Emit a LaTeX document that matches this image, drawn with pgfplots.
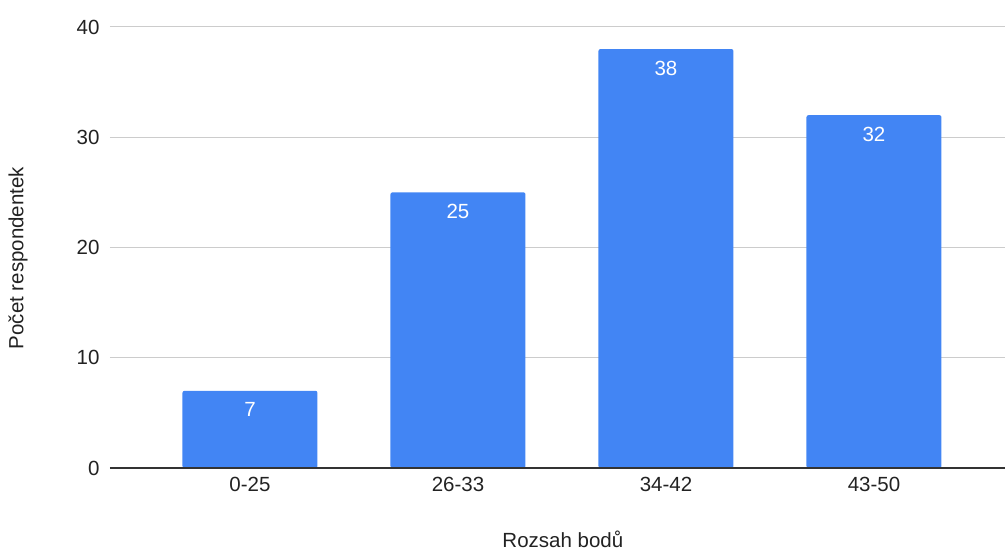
\documentclass[border=0pt]{standalone}
\usepackage{fontspec}
\setmainfont{Liberation Sans}
\usepackage{pgfplots}
\pgfplotsset{compat=1.18}
\definecolor{barblue}{HTML}{4285F4}
\definecolor{gridgray}{HTML}{CCCCCC}
\definecolor{axisdark}{HTML}{333333}
\definecolor{txt}{HTML}{222222}
\newcommand{\chartfont}{\fontsize{20.5}{24}\selectfont}
\begin{document}
\begin{tikzpicture}[x=1pt,y=1pt]
\path[use as bounding box] (-110,-84) rectangle (895,468);
\begin{axis}[
  at={(0,0)}, anchor=south west,
  scale only axis,
  width=895pt, height=441pt,
  xmin=-0.673, xmax=3.63,
  ymin=0, ymax=40,
  ytick={0,10,20,30,40},
  xtick={0,1,2,3},
  xticklabels={0-25,26-33,34-42,43-50},
  axis line style={draw=none},
  major tick length=0pt,
  ymajorgrids,
  grid style={gridgray, line width=1pt},
  tick label style={font=\chartfont, text=txt},
  /pgf/number format/assume math mode=true,
  yticklabel style={xshift=-7pt},
  xticklabel style={yshift=-6pt},
  xlabel={Rozsah bodů},
  ylabel={Počet respondentek},
  label style={font=\chartfont, text=txt},
  xlabel style={at={([yshift=-71pt]rel axis cs:0.506,0)}, anchor=center},
  ylabel style={at={([xshift=-92pt]rel axis cs:0,0.476)}, anchor=center},
  ybar, bar width=135pt,
  nodes near coords,
  every node near coord/.style={anchor=center, yshift=-19pt, text=white, font=\chartfont},
  clip=false,
]
\addplot[fill=barblue, draw=none, rounded corners=2pt] coordinates {(0,7) (1,25) (2,38) (3,32)};
\draw[axisdark, line width=1.5pt] (rel axis cs:0,0) -- (rel axis cs:1,0);
\end{axis}
\end{tikzpicture}
\end{document}
